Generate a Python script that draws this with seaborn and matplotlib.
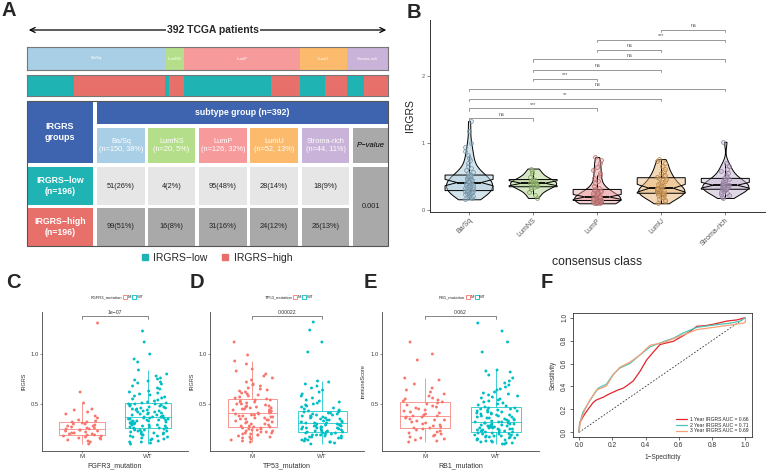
import numpy as np
import pandas as pd
import matplotlib
matplotlib.use("Agg")
import matplotlib.pyplot as plt
import seaborn as sns
from matplotlib.patches import Rectangle
from matplotlib.lines import Line2D

sns.set_theme(style="white")
plt.rcParams["font.family"] = ["Liberation Sans", "DejaVu Sans"]
np.random.seed(7)  # jitter only

W, H = 768, 470

# ---------------- data ----------------
subtypes = ["Ba/Sq", "LumNS", "LumP", "LumU", "Stroma-rich"]
subtype_n = [150, 20, 126, 52, 44]
low_n = [51, 4, 95, 28, 18]
high_n = [99, 16, 31, 24, 26]
table_p = "0.001"
sub_colors = ["#a8cfe6", "#b5de8a", "#f79a9c", "#fcbb6c", "#c9b3d8"]
TEAL, RED = "#1fb3b3", "#e8706a"
BLUE = "#3e64b0"

# panel B: IRGRS by consensus class
bsq_vals = [0.16, 0.18, 0.19, 0.2, 0.21, 0.22, 0.23, 0.24, 0.25, 0.25, 0.26, 0.27, 0.27, 0.28, 0.29,
            0.29, 0.3, 0.31, 0.32, 0.33, 0.34, 0.35, 0.35, 0.36, 0.37, 0.38, 0.38, 0.39, 0.4, 0.41,
            0.41, 0.42, 0.43, 0.44, 0.44, 0.45, 0.46, 0.47, 0.48, 0.48, 0.49, 0.5, 0.51, 0.51, 0.52,
            0.53, 0.55, 0.57, 0.6, 0.63, 0.66, 0.7, 0.74, 0.78, 0.82, 0.88, 0.94, 1.0, 1.18, 1.33]
lumns_vals = [0.18, 0.22, 0.27, 0.31, 0.34, 0.35, 0.36, 0.38, 0.39, 0.4, 0.4, 0.41, 0.43, 0.44,
              0.45, 0.47, 0.5, 0.55, 0.58, 0.62]
lump_vals = [0.1, 0.1, 0.11, 0.11, 0.12, 0.12, 0.12, 0.13, 0.13, 0.13, 0.14, 0.14,
             0.14, 0.15, 0.15, 0.15, 0.16, 0.16, 0.16, 0.17, 0.17, 0.18, 0.18, 0.19, 0.19,
             0.2, 0.2, 0.21, 0.22, 0.23, 0.24, 0.25, 0.26, 0.27, 0.28, 0.29, 0.3, 0.31,
             0.33, 0.36, 0.4, 0.44, 0.48, 0.52, 0.56, 0.6, 0.65, 0.7, 0.75, 0.79]
lumu_vals = [0.1, 0.13, 0.15, 0.17, 0.19, 0.2, 0.22, 0.23, 0.24, 0.25,
             0.25, 0.26, 0.27, 0.28, 0.28, 0.29, 0.3, 0.31, 0.31, 0.32,
             0.33, 0.34, 0.36, 0.37, 0.39, 0.4, 0.42, 0.44, 0.46, 0.48,
             0.49, 0.51, 0.53, 0.56, 0.59, 0.62, 0.66, 0.7, 0.73, 0.76]
stroma_vals = [0.18, 0.2, 0.22, 0.24, 0.26, 0.27, 0.28, 0.3, 0.31,
               0.31, 0.32, 0.33, 0.33, 0.34, 0.35, 0.35, 0.36, 0.37,
               0.37, 0.38, 0.39, 0.4, 0.41, 0.42, 0.44, 0.45, 0.47,
               0.48, 0.5, 0.52, 0.55, 0.58, 0.62, 0.66, 0.7, 1.02]
b_pairs = [(0, 1), (0, 2), (0, 3), (0, 4), (1, 2), (1, 3), (1, 4), (2, 3), (2, 4), (3, 4)]
b_signif = ["ns", "***", "**", "ns", "***", "ns", "ns", "ns", "***", "ns"]
b_bracket_y = [1.37, 1.52, 1.66, 1.81, 1.96, 2.10, 2.25, 2.39, 2.54, 2.69]

# panels C-E: mutation groups
fgfr3_m = [0.10, 0.12, 0.13, 0.14, 0.15, 0.16, 0.16, 0.17, 0.18, 0.18, 0.19,
           0.19, 0.2, 0.2, 0.21, 0.21, 0.22, 0.23, 0.23, 0.24, 0.24, 0.25,
           0.25, 0.26, 0.26, 0.27, 0.28, 0.28, 0.29, 0.3, 0.3, 0.31, 0.32,
           0.32, 0.33, 0.34, 0.36, 0.38, 0.4, 0.42, 0.44, 0.45, 0.51, 0.62, 1.31]
fgfr3_wt = [0.10, 0.11, 0.12, 0.12, 0.13, 0.14, 0.15, 0.15, 0.16, 0.17, 0.17, 0.18, 0.18, 0.19, 0.19,
            0.2, 0.2, 0.21, 0.21, 0.22, 0.22, 0.23, 0.23, 0.24, 0.24, 0.24, 0.25, 0.25, 0.26, 0.26,
            0.26, 0.27, 0.27, 0.28, 0.28, 0.29, 0.29, 0.29, 0.3, 0.3, 0.31, 0.31, 0.31, 0.32, 0.32,
            0.33, 0.33, 0.33, 0.34, 0.34, 0.34, 0.35, 0.35, 0.35, 0.36, 0.36, 0.36, 0.37, 0.37, 0.37,
            0.37, 0.38, 0.38, 0.39, 0.39, 0.4, 0.4, 0.41, 0.41, 0.42, 0.42, 0.43, 0.43, 0.44, 0.44,
            0.45, 0.45, 0.46, 0.46, 0.47, 0.47, 0.48, 0.48, 0.49, 0.49, 0.5, 0.5, 0.5, 0.51, 0.51,
            0.52, 0.53, 0.54, 0.55, 0.56, 0.57, 0.58, 0.59, 0.6, 0.61, 0.62, 0.63, 0.65, 0.66, 0.68,
            0.7, 0.71, 0.72, 0.73, 0.74, 0.75, 0.76, 0.78, 0.8, 0.84, 0.92, 0.95, 1.0, 1.12, 1.23]
tp53_m = [0.12, 0.13, 0.14, 0.15, 0.16, 0.17, 0.17, 0.18, 0.19, 0.19, 0.2, 0.2, 0.21, 0.21, 0.22,
          0.22, 0.23, 0.23, 0.24, 0.24, 0.25, 0.25, 0.26, 0.26, 0.27,
          0.27, 0.28, 0.28, 0.29, 0.3, 0.3, 0.31, 0.32, 0.32, 0.33, 0.34, 0.34, 0.35, 0.35, 0.36,
          0.36, 0.37, 0.37, 0.38, 0.38, 0.39, 0.39, 0.4, 0.4, 0.41,
          0.41, 0.42, 0.42, 0.43, 0.43, 0.44, 0.44, 0.45, 0.45, 0.46, 0.46, 0.47, 0.47, 0.48, 0.48,
          0.49, 0.5, 0.5, 0.51, 0.52, 0.52, 0.53, 0.54, 0.54, 0.55,
          0.56, 0.57, 0.58, 0.59, 0.6, 0.61, 0.62, 0.63, 0.64, 0.65, 0.66, 0.68, 0.69, 0.7, 0.72,
          0.74, 0.76, 0.78, 0.8, 0.83, 0.85, 0.9, 0.93, 0.99, 1.12]
tp53_wt = [0.1, 0.11, 0.12, 0.12, 0.13, 0.14, 0.14, 0.15, 0.15, 0.16, 0.16, 0.17, 0.17, 0.18, 0.18,
           0.19, 0.19, 0.19, 0.2, 0.2, 0.21, 0.21, 0.21, 0.22, 0.22,
           0.22, 0.23, 0.23, 0.23, 0.24, 0.24, 0.25, 0.25, 0.25, 0.26, 0.26, 0.26, 0.27, 0.27, 0.27,
           0.28, 0.28, 0.28, 0.29, 0.29, 0.29, 0.3, 0.3, 0.31, 0.31,
           0.31, 0.32, 0.32, 0.33, 0.33, 0.34, 0.34, 0.35, 0.35, 0.36, 0.36, 0.37, 0.37, 0.38, 0.38,
           0.39, 0.39, 0.4, 0.4, 0.41, 0.41, 0.42, 0.42, 0.43, 0.43,
           0.44, 0.45, 0.46, 0.47, 0.48, 0.49, 0.5, 0.51, 0.52, 0.53, 0.54, 0.56, 0.58, 0.6, 0.62,
           0.64, 0.66, 0.68, 0.7, 0.72, 0.73, 1.02, 1.12, 1.24, 1.32]
rb1_m = [0.12, 0.13, 0.14, 0.15, 0.16, 0.17, 0.18, 0.19, 0.2, 0.21, 0.22, 0.23, 0.24, 0.25, 0.26,
         0.26, 0.27, 0.28, 0.29, 0.3, 0.31, 0.32, 0.33, 0.34, 0.34, 0.35, 0.36, 0.37, 0.37, 0.38,
         0.38, 0.39, 0.4, 0.41, 0.42, 0.43, 0.44, 0.45, 0.46, 0.47, 0.48, 0.49, 0.5, 0.51, 0.52,
         0.53, 0.54, 0.55, 0.56, 0.58, 0.6, 0.62, 0.64, 0.66, 0.7, 0.74, 0.76, 0.94, 1.0, 1.12]
rb1_wt = [0.1, 0.1, 0.11, 0.11, 0.12, 0.12, 0.13, 0.13, 0.14, 0.14, 0.15, 0.15, 0.16, 0.16, 0.17,
          0.17, 0.17, 0.18, 0.18, 0.18, 0.19, 0.19, 0.19, 0.2, 0.2, 0.2, 0.21, 0.21, 0.22, 0.22,
          0.22, 0.23, 0.23, 0.23, 0.24, 0.24, 0.24, 0.25, 0.25, 0.25, 0.26, 0.26, 0.26, 0.27, 0.27,
          0.27, 0.28, 0.28, 0.28, 0.29, 0.29, 0.29, 0.3, 0.3, 0.3, 0.31, 0.31, 0.31, 0.32, 0.32,
          0.32, 0.33, 0.33, 0.34, 0.34, 0.35, 0.35, 0.36, 0.36, 0.37, 0.37, 0.38, 0.38, 0.39, 0.39,
          0.4, 0.4, 0.41, 0.41, 0.42, 0.42, 0.43, 0.43, 0.44, 0.44, 0.45, 0.45, 0.46, 0.46, 0.47,
          0.48, 0.49, 0.5, 0.51, 0.52, 0.53, 0.54, 0.55, 0.56, 0.57, 0.58, 0.59, 0.6, 0.61, 0.62,
          0.64, 0.65, 0.67, 0.69, 0.71, 0.73, 0.76, 0.79, 0.82, 0.84, 0.83, 1.02, 1.12, 1.23, 1.31]
M_COL, WT_COL = "#f8766d", "#00bfc4"

# panel F: ROC curves
roc1_fpr = [0, 0.004, 0.024, 0.044, 0.064, 0.085, 0.105, 0.145, 0.175, 0.205, 0.235, 0.265, 0.286,
            0.326, 0.366, 0.386, 0.406, 0.447, 0.487, 0.527, 0.567, 0.628, 0.668, 0.708, 0.76,
            0.81, 0.89, 0.95, 1.0]
roc1_tpr = [0, 0.08, 0.136, 0.18, 0.22, 0.26, 0.283, 0.306, 0.33, 0.35, 0.37, 0.385, 0.405,
            0.448, 0.53, 0.58, 0.63, 0.70, 0.765, 0.78, 0.793, 0.844, 0.88, 0.924, 0.93,
            0.943, 0.97, 0.98, 1.0]
roc2_fpr = [0, 0.004, 0.024, 0.054, 0.085, 0.115, 0.165, 0.205, 0.245, 0.306, 0.366, 0.427,
            0.507, 0.567, 0.628, 0.708, 0.81, 0.91, 0.97, 1.0]
roc2_tpr = [0, 0.08, 0.178, 0.25, 0.32, 0.385, 0.42, 0.504, 0.56, 0.60, 0.674, 0.745,
            0.79, 0.82, 0.867, 0.915, 0.935, 0.952, 0.97, 1.0]
roc3_fpr = [0, 0.008, 0.034, 0.064, 0.105, 0.165, 0.205, 0.245, 0.306, 0.366, 0.427, 0.507,
            0.567, 0.628, 0.708, 0.809, 0.909, 0.99, 1.0, 1.0]
roc3_tpr = [0, 0.093, 0.193, 0.278, 0.368, 0.405, 0.499, 0.567, 0.612, 0.674, 0.759, 0.782,
            0.816, 0.85, 0.895, 0.915, 0.935, 0.952, 0.96, 1.0]
roc_labels = ["1 Year IRGRS AUC = 0.66", "2 Year IRGRS AUC = 0.71", "3 Year IRGRS AUC = 0.69"]
roc_colors = ["#e0262b", "#4fc4b4", "#f7a07a"]

# ---------------- figure ----------------
fig = plt.figure(figsize=(7.68, 4.70), dpi=100)


def add_ax(x0, y0, x1, y1):
    return fig.add_axes([x0 / W, 1 - y1 / H, (x1 - x0) / W, (y1 - y0) / H])


# ---- A: overview + table ----
axA = add_ax(0, 0, 390, 270)
axA.set_xlim(0, 390)
axA.set_ylim(270, 0)
axA.axis("off")

axA.annotate("", xy=(26, 30), xytext=(389, 30),
             arrowprops=dict(arrowstyle="<->", lw=0.9, color="black", mutation_scale=9))
axA.text(213, 30, "392 TCGA patients", ha="center", va="center", fontsize=7.5,
         fontweight="bold", bbox=dict(fc="white", ec="none", pad=0.6))


def cell(x0, y0, x1, y1, color, txt="", tcol="white", **kw):
    axA.add_patch(Rectangle((x0, y0), x1 - x0, y1 - y0, fc=color, ec="none"))
    if txt:
        axA.text((x0 + x1) / 2, (y0 + y1) / 2, txt, ha="center", va="center",
                 color=tcol, linespacing=1.2, **kw)


col_x = [(97, 145), (148, 195), (199, 247), (250, 298), (302, 349)]
total = sum(subtype_n)
cell(27, 101, 93, 163, BLUE, "IRGRS\ngroups", fontsize=6.5, fontweight="bold")
cell(97, 101, 388, 124, BLUE, f"subtype group (n={total})", fontsize=6.3, fontweight="bold")
for (x0, x1), name, n, c in zip(col_x, subtypes, subtype_n, sub_colors):
    cell(x0, 128, x1, 163, c, f"{name}\n(n={n}, {round(100 * n / total)}%)", fontsize=5.3)
cell(353, 128, 388, 163, "#a9a9a9", "P\u2212value", tcol="black", fontsize=5.5, style="italic")
n_low, n_high = sum(low_n), sum(high_n)
cell(27, 167, 93, 205, TEAL, f"IRGRS\u2212low\n(n={n_low})", fontsize=6.3, fontweight="bold")
cell(27, 208, 93, 246, RED, f"IRGRS\u2212high\n(n={n_high})", fontsize=6.3, fontweight="bold")
for (x0, x1), lo, hi in zip(col_x, low_n, high_n):
    cell(x0, 167, x1, 205, "#e6e6e6", f"{lo}({round(100 * lo / n_low)}%)", tcol="#222", fontsize=5.3)
    cell(x0, 208, x1, 246, "#a9a9a9", f"{hi}({round(100 * hi / n_high)}%)", tcol="#222", fontsize=5.3)
cell(353, 167, 388, 246, "#a9a9a9", table_p, tcol="#222", fontsize=5.3)
axA.add_patch(Rectangle((27, 101), 361, 145, fill=False, ec="#555", lw=0.8))

leg_handles = [Line2D([], [], marker="s", ls="none", color=TEAL, markersize=4),
               Line2D([], [], marker="s", ls="none", color=RED, markersize=4)]
axA.legend(leg_handles, ["IRGRS\u2212low", "IRGRS\u2212high"], ncol=2, frameon=False,
           fontsize=7.5, loc="center", bbox_to_anchor=(216, 258), bbox_transform=axA.transData,
           handletextpad=0.3, columnspacing=1.2, handlelength=1.0)

# subtype bar
cum = np.concatenate([[0], np.cumsum(subtype_n)[:-1]])
ax_b1 = add_ax(27, 47, 388, 70)
ax_b1.barh(0, subtype_n, left=cum, height=1, color=sub_colors, edgecolor="none")
for left, n, name in zip(cum, subtype_n, subtypes):
    ax_b1.text(left + n / 2, 0, name, ha="center", va="center", fontsize=3, color="white")
ax_b2 = add_ax(27, 75, 388, 96)
ax_b2.barh(0, low_n, left=cum, height=1, color=TEAL, edgecolor="none")
ax_b2.barh(0, high_n, left=cum + np.array(low_n), height=1, color=RED, edgecolor="none")
for a in (ax_b1, ax_b2):
    a.set_xlim(0, total)
    a.set_ylim(-0.5, 0.5)
    a.set_xticks([])
    a.set_yticks([])
    for s in a.spines.values():
        s.set_visible(True)
        s.set_color("#777")
        s.set_linewidth(0.8)

# ---- B: violin + notched box ----
b_vals = [bsq_vals, lumns_vals, lump_vals, lumu_vals, stroma_vals]
b_df = pd.DataFrame({"class": np.repeat(subtypes, [len(v) for v in b_vals]),
                     "IRGRS": np.concatenate(b_vals)})
pal_b = dict(zip(subtypes, sub_colors))
axB = add_ax(430, 20, 765, 212)
sns.violinplot(data=b_df, x="class", y="IRGRS", hue="class", order=subtypes, palette=pal_b,
               cut=0, inner=None, density_norm="area", width=0.72, linewidth=0.7,
               linecolor="black", legend=False, ax=axB)
for coll in axB.collections:
    fc = coll.get_facecolor()
    if len(fc):
        coll.set_facecolor((*fc[0][:3], 0.55))
sns.boxplot(data=b_df, x="class", y="IRGRS", hue="class", order=subtypes, palette=pal_b,
            width=0.75, linewidth=0.7, linecolor="black", showfliers=False, shownotches=True,
            medianprops=dict(linewidth=1.3), capprops=dict(linewidth=0),
            legend=False, ax=axB)
for p in axB.patches:
    fc = p.get_facecolor()
    p.set_facecolor((*fc[:3], 0.45))
n0 = len(axB.collections)
sns.stripplot(data=b_df, x="class", y="IRGRS", hue="class", order=subtypes, palette=pal_b,
              jitter=0.07, size=2.8, linewidth=0.5, legend=False, ax=axB)
for coll in axB.collections[n0:]:
    fc = coll.get_facecolor()
    if len(fc):
        rgb = np.array(fc[0][:3])
        coll.set_edgecolor(tuple(rgb * 0.7))
        coll.set_facecolor((*rgb, 0.35))
for (i, j), lab, y in zip(b_pairs, b_signif, b_bracket_y):
    axB.plot([i, i, j, j], [y - 0.035, y, y, y - 0.035], color="#888", lw=0.6)
    axB.text((i + j) / 2, y + 0.025, lab, ha="center", va="bottom", fontsize=4, color="#555")
axB.set_xlim(-0.61, 4.62)
axB.set_ylim(-0.03, 2.84)
axB.set_yticks([0, 1, 2])
axB.set_yticklabels(["0", "1", "2"], fontsize=4, color="#555")
axB.set_xticks(range(5))
axB.set_xticklabels(subtypes, rotation=45, ha="right", rotation_mode="anchor",
                    fontsize=5, color="#555")
axB.set_ylabel("IRGRS", fontsize=7.5, labelpad=5, color="#222")
axB.set_xlabel("consensus class", fontsize=8.8, color="#222", labelpad=6)
axB.tick_params(length=2, width=0.5, pad=1.5, bottom=True, left=True, colors="#555")
sns.despine(ax=axB)
for s in ("left", "bottom"):
    axB.spines[s].set_color("#333")
    axB.spines[s].set_linewidth(0.7)


# ---- C, D, E: mutation boxplots ----
def mutation_panel(box, m_vals, wt_vals, gene, ylabel, pval, leg_y_px):
    x0, y0, x1, y1 = box
    ax = add_ax(x0, y0, x1, y1)
    df = pd.DataFrame({"g": ["M"] * len(m_vals) + ["WT"] * len(wt_vals),
                       "v": m_vals + wt_vals})
    pal = {"M": M_COL, "WT": WT_COL}
    sns.boxplot(data=df, x="g", y="v", hue="g", order=["M", "WT"], palette=pal, fill=False,
                width=0.7, linewidth=0.7, showfliers=False, capprops=dict(linewidth=0),
                legend=False, ax=ax)
    for ln in ax.lines:
        ln.set_alpha(0.75)
    sns.stripplot(data=df, x="g", y="v", hue="g", order=["M", "WT"], palette=pal,
                  jitter=0.3, size=2.1, linewidth=0, legend=False, ax=ax)
    yb = 1.38
    ax.plot([0, 0, 1, 1], [yb - 0.03, yb, yb, yb - 0.03], color="#555", lw=0.5)
    ax.text(0.5, yb + 0.01, pval, ha="center", va="bottom", fontsize=3.7, color="#333")
    ax.set_xlim(-0.6, 1.6)
    ax.set_ylim(0.03, 1.42)
    ax.set_yticks([0.5, 1.0])
    ax.set_yticklabels(["0.5", "1.0"], fontsize=4.2, color="#444")
    ax.set_xticks([0, 1])
    ax.set_xticklabels(["M", "WT"], fontsize=4.5, color="#444")
    ax.set_xlabel(f"{gene}_mutation", fontsize=5, color="#333", labelpad=2)
    ax.set_ylabel(ylabel, fontsize=4, color="#333", labelpad=3)
    ax.tick_params(length=1.5, width=0.4, pad=1, bottom=True, left=True, colors="#444")
    sns.despine(ax=ax)
    for s in ("left", "bottom"):
        ax.spines[s].set_color("#444")
        ax.spines[s].set_linewidth(0.6)
    hand = [Line2D([], [], ls="none"),
            Line2D([], [], marker="s", ls="none", mfc="white", mec=M_COL, markersize=3.2, mew=0.6),
            Line2D([], [], marker="s", ls="none", mfc="white", mec=WT_COL, markersize=3.2, mew=0.6)]
    cx = (x0 + x1) / 2 / W
    fig.legend(hand, [f"{gene}_mutation", "M", "WT"], ncol=3, frameon=False, fontsize=3,
               loc="center", bbox_to_anchor=(cx, 1 - leg_y_px / H), handlelength=0.6,
               handletextpad=0.3, columnspacing=0.4)
    return ax


mutation_panel((42, 312, 188, 451), fgfr3_m, fgfr3_wt, "FGFR3", "IRGRS", "1e\u221207", 297)
mutation_panel((210, 312, 364, 451), tp53_m, tp53_wt, "TP53", "IRGRS", "0.00022", 297)
mutation_panel((382, 312, 539, 451), rb1_m, rb1_wt, "RB1", "immuneScore", "0.062", 297)

# ---- F: ROC ----
axF = add_ax(573, 313, 752, 437)
axF.plot([0, 1], [0, 1], ls=(0, (2, 2)), color="#333", lw=0.6)
for fpr, tpr, lab, col in zip([roc1_fpr, roc2_fpr, roc3_fpr], [roc1_tpr, roc2_tpr, roc3_tpr],
                              roc_labels, roc_colors):
    sns.lineplot(x=fpr, y=tpr, sort=False, estimator=None, color=col, lw=0.9, label=lab, ax=axF)
axF.set_xlim(-0.036, 1.04)
axF.set_ylim(-0.04, 1.04)
ticks = [0, 0.2, 0.4, 0.6, 0.8, 1.0]
axF.set_xticks(ticks)
axF.set_xticklabels([f"{t:.1f}" for t in ticks], fontsize=4.8, color="#333")
axF.set_yticks(ticks)
axF.set_yticklabels([f"{t:.1f}" for t in ticks], fontsize=4.8, color="#333",
                    rotation=90, va="center")
axF.set_xlabel("1\u2212Specificity", fontsize=4.7, color="#333", labelpad=4)
axF.set_ylabel("Sensitivity", fontsize=4.7, color="#333", labelpad=3)
axF.tick_params(length=2, width=0.5, pad=1.5, bottom=True, left=True, colors="#333")
for s in axF.spines.values():
    s.set_visible(True)
    s.set_color("#333")
    s.set_linewidth(0.6)
axF.legend(loc="lower right", frameon=False, fontsize=3.6, handlelength=2.3,
           labelspacing=0.15, borderaxespad=0.3, handletextpad=0.5)

# ---- panel letters ----
for lab, x, y in [("A", 9, 11), ("B", 414, 12), ("C", 13, 282), ("D", 197, 282),
                  ("E", 370, 282), ("F", 547, 282)]:
    fig.text(x / W, 1 - y / H, lab, fontsize=14.5, fontweight="bold", ha="center", va="center")

fig.savefig("out.png", dpi=100)
